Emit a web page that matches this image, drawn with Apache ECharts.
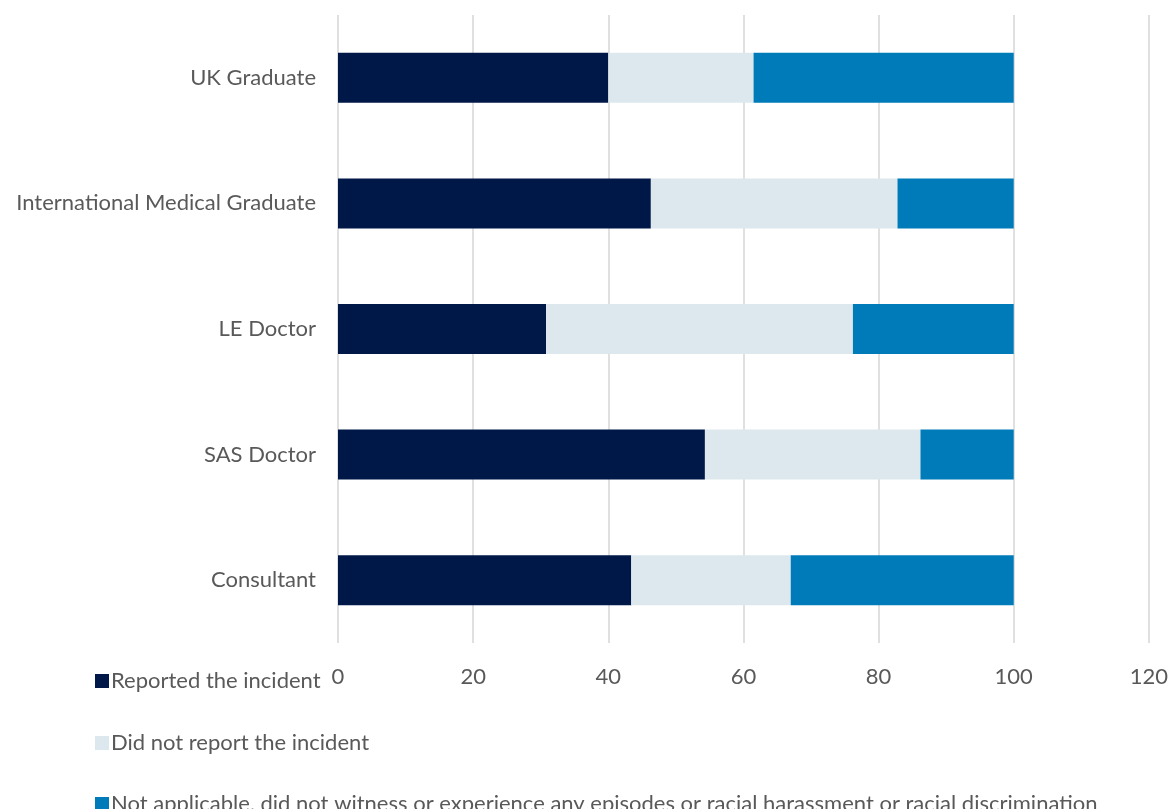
<!DOCTYPE html>
<html>
<head>
<meta charset="utf-8">
<script src="https://cdn.jsdelivr.net/npm/echarts@6/dist/echarts.min.js"></script>
<style>
  html, body { margin: 0; padding: 0; background: #fff; }
  #chart { width: 1171px; height: 809px; }
</style>
</head>
<body>
<div id="chart"></div>
<script>
// Respondent groups, top to bottom
const categories = ['UK Graduate', 'International Medical Graduate', 'LE Doctor', 'SAS Doctor', 'Consultant'];

// Percentages per group
const reported    = [40.0, 46.3, 30.8, 54.3, 43.4];
const notReported = [21.5, 36.5, 45.4, 31.9, 23.6];
const notApplicable = [38.5, 17.2, 23.8, 13.8, 33.0];

const seriesNames = [
  'Reported the incident',
  'Did not report the incident',
  'Not applicable, did not witness or experience any episodes or racial harassment or racial discrimination'
];

const xTicks = { min: 0, max: 120, interval: 20 };

const FONT = 'Lato, "Open Sans", sans-serif';
const FS = 22;
const TEXT = '#595959';
const colors = ['#001848', '#dde8ee', '#007bba'];

const chart = echarts.init(document.getElementById('chart'));

const makeSeries = (name, data, i) => ({
  name,
  type: 'bar',
  stack: 'total',
  data,
  barWidth: 50,
  itemStyle: { color: colors[i] },
  emphasis: { disabled: true }
});

// One legend block per entry so each sits on its own row
const legendTops = [665, 727, 788];
const legends = seriesNames.map((name, i) => ({
  orient: 'horizontal',
  left: 90,
  top: legendTops[i],
  itemWidth: 14,
  itemHeight: 14,
  itemGap: 0,
  icon: 'rect',
  selectedMode: false,
  textStyle: { fontFamily: FONT, fontSize: FS, color: TEXT, padding: [0, 0, 0, -3] },
  data: [name]
}));

chart.setOption({
  animation: false,
  textStyle: { fontFamily: FONT },
  grid: { left: 338, right: 22, top: 15, bottom: 166, containLabel: false },
  legend: legends,
  xAxis: {
    type: 'value',
    min: xTicks.min,
    max: xTicks.max,
    interval: xTicks.interval,
    axisLine: { show: false },
    axisTick: { show: false },
    axisLabel: { fontFamily: FONT, fontSize: FS, color: TEXT, margin: 23 },
    splitLine: { show: true, lineStyle: { color: '#d6d6d6', width: 1.5 } }
  },
  yAxis: {
    type: 'category',
    inverse: true,
    data: categories,
    axisLine: { show: false },
    axisTick: { show: false },
    axisLabel: { fontFamily: FONT, fontSize: FS, color: TEXT, margin: 22 }
  },
  series: [
    makeSeries(seriesNames[0], reported, 0),
    makeSeries(seriesNames[1], notReported, 1),
    makeSeries(seriesNames[2], notApplicable, 2)
  ]
});
</script>
</body>
</html>
